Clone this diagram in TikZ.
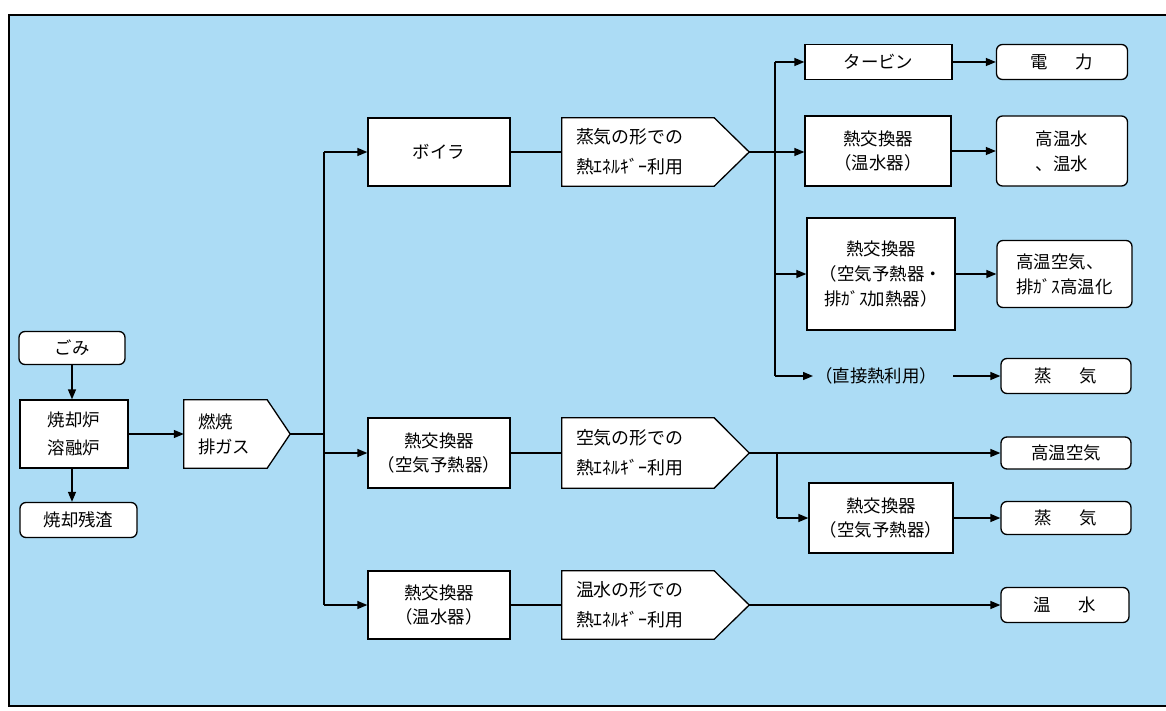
\documentclass[tikz,border=0pt]{standalone}
\usepackage{fontspec}
\setmainfont{Noto Sans CJK JP}
\usetikzlibrary{arrows.meta,calc}
\pgfdeclarelayer{bgfill}
\pgfdeclarelayer{under}
\pgfsetlayers{bgfill,under,main}
\definecolor{bgblue}{RGB}{172,220,245}
\begin{document}
\begin{tikzpicture}[x=1bp,y=-1bp,
  every node/.style={font=\fontsize{17.5}{25}\selectfont},
  box/.style={draw=black, fill=white, line width=1.3bp, inner sep=0pt, align=center},
  rbox/.style={box, rounded corners=6bp},
  body/.style={inner xsep=14bp, inner ysep=0pt, align=left, text width=124bp, font=\fontsize{18}{30}\selectfont},
  pentline/.style={draw=black, fill=white, line width=1.3bp, line join=miter},
  ln/.style={line width=1.3bp},
  arr/.style={ln, -{Triangle[length=10bp,width=8bp]}}]
\useasboundingbox (0,0) rectangle (1166,711);
\begin{pgfonlayer}{bgfill}
\fill[white] (0,0) rectangle (1166,711);
\fill[bgblue] (9,15) rectangle (1166,706);
\draw[line width=1.6bp] (1166,15) -- (9,15) -- (9,706) -- (1166,706);
\end{pgfonlayer}

% left column
\node[rbox, minimum width=106bp, minimum height=33bp] (gomi) at (72,348) {ごみ};
\node[box, minimum width=108bp, minimum height=68bp, font=\fontsize{17.5}{28}\selectfont] (ro) at (74,434) {焼却炉\\溶融炉};
\node[rbox, minimum width=117bp, minimum height=35bp] (zan) at (78.5,520) {焼却残渣};
\draw[arr] (gomi) -- (gomi |- ro.north);
\draw[arr] (gomi |- ro.south) -- (gomi |- zan.north);

% combustion gas pentagon
\node[body, text width=55bp, minimum height=68bp, font=\fontsize{17.5}{25}\selectfont] (p0) at (225.5,434) {燃焼\\排ガス};
\begin{pgfonlayer}{under}
\draw[pentline] (p0.north west) -- (p0.north east) -- ($(p0.east)+(23,0)$) coordinate (p0tip) -- (p0.south east) -- (p0.south west) -- cycle;
\end{pgfonlayer}
\draw[arr] (ro) -- (p0);

% trunk 1
\coordinate (j1) at (324,434);
\coordinate (j1t) at (324,152);
\coordinate (j1m) at (324,453);
\coordinate (j1b) at (324,605);
\draw[ln] (p0tip) -- (j1);
\draw[ln] (j1t) -- (j1b);

% second column
\node[box, minimum width=142bp, minimum height=68bp] (boiler) at (439,152) {ボイラ};
\node[box, minimum width=142bp, minimum height=70bp] (hx1) at (439,453) {熱交換器\\（空気予熱器）};
\node[box, minimum width=142bp, minimum height=68bp] (hx2) at (439,605) {熱交換器\\（温水器）};
\draw[arr] (j1t) -- (boiler.west);
\draw[arr] (j1m) -- (hx1.west);
\draw[arr] (j1b) -- (hx2.west);

% pentagons
\node[body, minimum height=68bp] (p1) at (638,152) {蒸気の形での\\熱ｴﾈﾙｷﾞｰ利用};
\node[body, minimum height=70bp] (p2) at (638,453) {空気の形での\\熱ｴﾈﾙｷﾞｰ利用};
\node[body, minimum height=68bp] (p3) at (638,605) {温水の形での\\熱ｴﾈﾙｷﾞｰ利用};
\begin{pgfonlayer}{under}
\draw[pentline] (p1.north west) -- (p1.north east) -- ($(p1.east)+(35,0)$) coordinate (p1tip) -- (p1.south east) -- (p1.south west) -- cycle;
\draw[pentline] (p2.north west) -- (p2.north east) -- ($(p2.east)+(35,0)$) coordinate (p2tip) -- (p2.south east) -- (p2.south west) -- cycle;
\draw[pentline] (p3.north west) -- (p3.north east) -- ($(p3.east)+(35,0)$) coordinate (p3tip) -- (p3.south east) -- (p3.south west) -- cycle;
\end{pgfonlayer}
\draw[ln] (boiler) -- (p1);
\draw[ln] (hx1) -- (p2);
\draw[ln] (hx2) -- (p3);

% upper right branch
\node[box, minimum width=147bp, minimum height=35bp] (turbine) at (878.5,62) {タービン};
\node[rbox, minimum width=131bp, minimum height=35bp] (denryoku) at (1062,62) {電\hspace{1.6em}力};
\node[box, minimum width=146bp, minimum height=70bp] (hxA) at (878,151) {熱交換器\\（温水器）};
\node[rbox, minimum width=131bp, minimum height=70bp] (kouonsui) at (1062,151) {高温水\\、温水};
\node[box, minimum width=148bp, minimum height=112bp] (hxB) at (881,274) {熱交換器\\（空気予熱器・\\排ｶﾞｽ加熱器）};
\node[rbox, minimum width=135bp, minimum height=67bp, align=left] (kk1) at (1064.5,274) {高温空気、\\排ｶﾞｽ高温化};
\node[anchor=west, inner xsep=2bp, inner ysep=2bp] (direct) at (813,376) {（直接熱利用）};
\node[rbox, minimum width=130bp, minimum height=35bp] (jouki1) at (1066,376) {蒸\hspace{1.6em}気};

\coordinate (j2t) at (775,62);
\coordinate (j2m) at (775,274);
\coordinate (j2b) at (775,376);
\draw[ln] (j2t) -- (j2b);
\draw[arr] (p1tip) -- (p1tip -| hxA.west);
\draw[arr] (j2t) -- (turbine.west);
\draw[arr] (j2m) -- (hxB.west);
\draw[arr] (j2b) -- (direct.west);
\draw[arr] (turbine) -- (denryoku);
\draw[arr] (hxA) -- (kouonsui);
\draw[arr] (hxB) -- (kk1);
\draw[arr, shorten <=14bp] (direct) -- (jouki1);

% lower right branch
\node[rbox, minimum width=130bp, minimum height=32bp] (kk2) at (1066,453) {高温空気};
\node[box, minimum width=144bp, minimum height=70bp] (hxC) at (881,518) {熱交換器\\（空気予熱器）};
\node[rbox, minimum width=130bp, minimum height=33bp] (jouki2) at (1066,518) {蒸\hspace{1.6em}気};
\node[rbox, minimum width=128bp, minimum height=35bp] (onsui) at (1065,605) {温\hspace{1.6em}水};
\coordinate (j3) at (777,453);
\coordinate (j3b) at (777,518);
\draw[arr] (p2tip) -- (kk2);
\draw[ln] (j3) -- (j3b);
\draw[arr] (j3b) -- (hxC.west);
\draw[arr] (hxC) -- (jouki2);
\draw[arr] (p3tip) -- (onsui);
\end{tikzpicture}
\end{document}
